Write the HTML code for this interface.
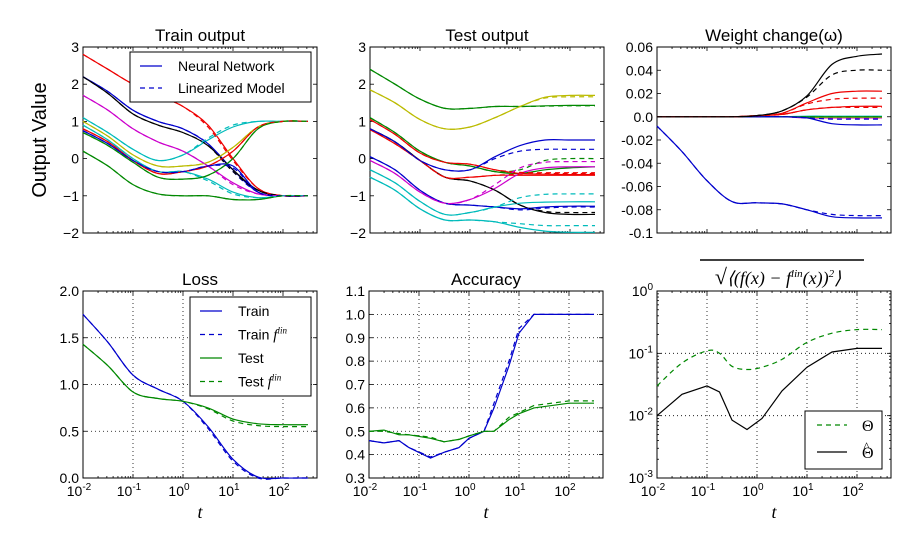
<!DOCTYPE html>
<html><head><meta charset="utf-8"><style>
body{margin:0;background:#fff;}
svg{display:block;font-family:"Liberation Sans","DejaVu Sans",sans-serif;}
</style></head><body>
<svg id="fig" width="918" height="544" viewBox="0 0 918 544" xmlns="http://www.w3.org/2000/svg"></svg>
<script>
// ---- shared x grid (log10 t) ----
const LT = [-2,-1.5,-1,-0.5,0,0.5,1,1.5,2,2.5];
// ---- Train output series ----
const trainNames = ['red-a','blue-a','black-a','magenta-a','cyan-a','yellow-a','cyan-b','red-b','blue-b','green-a','green-b'];
const trainColors = ['#e00','#00c','#000','#c0c','#0bb','#bb0','#0bb','#e00','#00c','#080','#080'];
const trainVals = [
 [2.8,2.4,2.0,1.7,1.4,0.9,0.0,-0.8,-1.0,-1.0],
 [2.2,1.8,1.3,1.0,0.8,0.4,-0.3,-0.9,-1.0,-1.0],
 [2.2,1.75,1.2,0.9,0.7,0.35,-0.3,-0.85,-1.0,-1.0],
 [1.7,1.3,0.8,0.45,0.2,-0.2,-0.65,-0.95,-1.0,-1.0],
 [1.1,0.7,0.25,-0.05,0.1,0.5,0.85,1.0,1.0,1.0],
 [1.0,0.6,0.1,-0.2,-0.2,-0.1,0.3,0.85,1.0,1.0],
 [0.9,0.5,0.0,-0.35,-0.35,-0.55,-0.9,-1.05,-1.0,-1.0],
 [0.8,0.45,-0.05,-0.4,-0.35,-0.2,0.2,0.85,1.0,1.0],
 [0.75,0.4,-0.05,-0.35,-0.35,-0.2,-0.2,-0.9,-1.0,-1.0],
 [0.7,0.35,-0.1,-0.5,-0.55,-0.45,0.0,0.8,1.0,1.0],
 [0.2,-0.2,-0.7,-0.95,-1.0,-1.0,-1.1,-1.1,-1.0,-1.0]
];
const trainLin = [
 [2.8,2.4,2.0,1.7,1.4,0.85,-0.05,-0.8,-1.0,-1.0],
 [2.2,1.8,1.3,1.0,0.8,0.4,-0.35,-0.9,-1.0,-1.0],
 [2.2,1.75,1.2,0.9,0.7,0.35,-0.35,-0.85,-1.0,-1.0],
 [1.7,1.3,0.8,0.45,0.2,-0.2,-0.7,-0.95,-1.0,-1.0],
 [1.1,0.7,0.25,-0.05,0.1,0.55,0.9,1.0,1.0,1.0],
 [1.0,0.6,0.1,-0.2,-0.2,-0.1,0.3,0.85,1.0,1.0],
 [0.9,0.5,0.0,-0.35,-0.35,-0.6,-0.95,-1.05,-1.0,-1.0],
 [0.8,0.45,-0.05,-0.4,-0.35,-0.2,0.2,0.85,1.0,1.0],
 [0.75,0.4,-0.05,-0.35,-0.35,-0.2,-0.25,-0.9,-1.0,-1.0],
 [0.7,0.35,-0.1,-0.5,-0.55,-0.45,0.0,0.8,1.0,1.0],
 [0.2,-0.2,-0.7,-0.95,-1.0,-1.0,-1.1,-1.1,-1.0,-1.0]
];
// ---- Test output series ----
const testColors = ['#080','#bb0','#080','#e00','#000','#e00','#00c','#00c','#c0c','#0bb','#0bb'];
const testVals = [
 [2.4,2.0,1.6,1.35,1.35,1.4,1.4,1.42,1.43,1.43],
 [1.85,1.5,1.05,0.8,0.85,1.1,1.4,1.65,1.7,1.7],
 [1.1,0.7,0.2,-0.1,-0.2,-0.35,-0.4,-0.3,-0.25,-0.22],
 [1.05,0.65,0.15,-0.1,-0.15,-0.3,-0.4,-0.42,-0.43,-0.43],
 [0.8,0.45,-0.05,-0.5,-0.6,-0.85,-1.25,-1.45,-1.5,-1.5],
 [0.78,0.4,-0.05,-0.5,-0.5,-0.45,-0.45,-0.45,-0.45,-0.45],
 [0.8,0.45,-0.05,-0.3,-0.3,0.05,0.35,0.5,0.5,0.5],
 [0.05,-0.3,-0.85,-1.2,-1.25,-1.3,-1.35,-1.3,-1.28,-1.28],
 [-0.05,-0.4,-0.9,-1.2,-1.1,-0.8,-0.4,-0.25,-0.22,-0.22],
 [-0.3,-0.65,-1.15,-1.5,-1.45,-1.3,-1.2,-1.17,-1.16,-1.16],
 [-0.5,-0.85,-1.35,-1.65,-1.65,-1.7,-1.85,-1.95,-1.98,-1.98]
];
const testLin = [
 [2.4,2.0,1.6,1.35,1.35,1.4,1.4,1.41,1.42,1.42],
 [1.85,1.5,1.05,0.8,0.85,1.1,1.4,1.63,1.66,1.66],
 [1.1,0.7,0.2,-0.1,-0.2,-0.35,-0.3,-0.05,0.0,0.0],
 [1.05,0.65,0.15,-0.1,-0.15,-0.3,-0.37,-0.38,-0.38,-0.38],
 [0.8,0.45,-0.05,-0.5,-0.6,-0.85,-1.25,-1.42,-1.45,-1.45],
 [0.78,0.4,-0.05,-0.5,-0.5,-0.45,-0.42,-0.4,-0.4,-0.4],
 [0.8,0.45,-0.05,-0.3,-0.3,0.0,0.2,0.25,0.25,0.25],
 [0.05,-0.3,-0.85,-1.2,-1.25,-1.3,-1.38,-1.33,-1.3,-1.3],
 [-0.05,-0.4,-0.9,-1.2,-1.1,-0.7,-0.25,-0.1,-0.08,-0.08],
 [-0.3,-0.65,-1.15,-1.5,-1.45,-1.3,-1.05,-0.96,-0.95,-0.95],
 [-0.5,-0.85,-1.35,-1.65,-1.65,-1.7,-1.75,-1.8,-1.8,-1.8]
];
// ---- Weight change ----
const wColors = ['#00c','#000','#e00','#e00','#00c','#080','#0bb','#bb0','#c0c'];
const wVals = [
 [-0.008,-0.03,-0.055,-0.073,-0.074,-0.075,-0.08,-0.086,-0.087,-0.087],
 [0,0,0,0,0.001,0.005,0.018,0.045,0.052,0.054],
 [0,0,0,0,0.001,0.003,0.012,0.02,0.022,0.022],
 [0,0,0,0,0.001,0.002,0.006,0.008,0.009,0.009],
 [0,0,0,0,0,0,-0.001,-0.006,-0.007,-0.007],
 [0,0,0,0,0,0,0,0,0,0],
 [0,0,0,0,0,0,0.0005,0.0005,0.0005,0.0005],
 [0,0,0,0,0,0,-0.0005,-0.0005,-0.0005,-0.0005],
 [0,0,0,0,0,0,-0.001,-0.001,-0.001,-0.001]
];
const wLin = [
 [-0.008,-0.03,-0.055,-0.073,-0.074,-0.075,-0.08,-0.084,-0.085,-0.085],
 [0,0,0,0,0.001,0.005,0.017,0.036,0.04,0.04],
 [0,0,0,0,0.001,0.003,0.011,0.015,0.016,0.016],
 [0,0,0,0,0.001,0.002,0.006,0.008,0.008,0.008],
 [0,0,0,0,0,0,-0.001,-0.002,-0.002,-0.002],
 [0,0,0,0,0,0,0,0,0,0],
 [0,0,0,0,0,0,0,0,0,0],
 [0,0,0,0,0,0,0,0,0,0],
 [0,0,0,0,0,0,0,0,0,0]
];
// ---- Loss ----
const lossTrain = [1.75,1.45,1.1,0.95,0.82,0.55,0.2,0.01,0,0];
const lossTrainLin = [1.75,1.45,1.1,0.95,0.82,0.53,0.18,0.0,0,0];
const lossTest = [1.43,1.2,0.92,0.85,0.82,0.75,0.63,0.58,0.57,0.57];
const lossTestLin = [1.43,1.2,0.92,0.85,0.82,0.74,0.61,0.56,0.55,0.55];
// ---- Accuracy ----
const accLT = [-2,-1.7,-1.4,-1.2,-0.77,-0.5,-0.2,0,0.3,0.5,0.8,1,1.3,2,2.5];
const accTrain = [0.46,0.45,0.46,0.43,0.385,0.41,0.43,0.47,0.5,0.6,0.78,0.92,1.0,1.0,1.0];
const accTrainLin = [0.46,0.45,0.46,0.43,0.39,0.41,0.43,0.47,0.5,0.62,0.8,0.94,1.0,1.0,1.0];
const accTest = [0.5,0.505,0.485,0.485,0.47,0.455,0.465,0.48,0.5,0.5,0.55,0.575,0.6,0.62,0.62];
const accTestLin = [0.5,0.5,0.49,0.485,0.475,0.455,0.465,0.48,0.5,0.5,0.56,0.58,0.61,0.63,0.63];
// ---- Distance ----
const dLT = [-2,-1.5,-1,-0.75,-0.5,-0.2,0.1,0.5,1,1.5,2,2.5];
const dTheta = [0.03,0.07,0.11,0.1,0.062,0.055,0.06,0.08,0.15,0.21,0.24,0.24];
const dThetaHat = [0.01,0.022,0.03,0.024,0.0085,0.006,0.009,0.025,0.06,0.105,0.12,0.12];

const NS='http://www.w3.org/2000/svg';
const svg=document.getElementById('fig');
function el(tag,attrs,parent){const e=document.createElementNS(NS,tag);for(const k in attrs)e.setAttribute(k,attrs[k]);(parent||svg).appendChild(e);return e;}
const W=234;
function xS(x0){return lt=>x0+(lt+2)*50;}
function yLin(y0,y1,lo,hi){return v=>y1-(v-lo)/(hi-lo)*(y1-y0);}
function yLog(y0,y1,lo,hi){return v=>y1-(Math.log10(v)-lo)/(hi-lo)*(y1-y0);}
function smoothPath(xs,ys){
  let d='M'+xs[0].toFixed(1)+','+ys[0].toFixed(1);
  for(let i=0;i<xs.length-1;i++){
    const x0=xs[Math.max(i-1,0)],y0=ys[Math.max(i-1,0)],x1=xs[i],y1=ys[i],x2=xs[i+1],y2=ys[i+1],x3=xs[Math.min(i+2,xs.length-1)],y3=ys[Math.min(i+2,xs.length-1)];
    d+=' C'+(x1+(x2-x0)/6).toFixed(1)+','+(y1+(y2-y0)/6).toFixed(1)+' '+(x2-(x3-x1)/6).toFixed(1)+','+(y2-(y3-y1)/6).toFixed(1)+' '+x2.toFixed(1)+','+y2.toFixed(1);
  }
  return d;
}
function linePath(xs,ys){return xs.map((x,i)=>(i?'L':'M')+x.toFixed(1)+','+ys[i].toFixed(1)).join(' ');}

function frame(name,x0,y0,y1,title,grid,ylabels,yvals,ysc,xlabels,logY){
  const g=el('g',{});
  
  
  const xs=xS(x0);
  if(grid){
    for(let d=-1;d<=2;d++){const l=el('line',{x1:xs(d),x2:xs(d),y1:y0,y2:y1,stroke:'#000','stroke-width':0.8,'stroke-dasharray':'1,3'},g);}
    yvals.forEach(v=>{const y=ysc(v);if(y>y0+1&&y<y1-1){const l=el('line',{x1:x0,x2:x0+W,y1:y,y2:y,stroke:'#000','stroke-width':0.8,'stroke-dasharray':'1,3'},g);}});
  }
  for(let d=-2;d<=2;d++){
    for(let m=1;m<10;m++){
      const lt=d+Math.log10(m);if(lt>2.68)break;
      const x=xs(lt),len=m===1?4:2;
      el('line',{x1:x,x2:x,y1:y1,y2:y1-len,stroke:'#000','stroke-width':0.8},g);
      el('line',{x1:x,x2:x,y1:y0,y2:y0+len,stroke:'#000','stroke-width':0.8},g);
    }
  }
  yvals.forEach((v,i)=>{const y=ysc(v);
    el('line',{x1:x0,x2:x0+4,y1:y,y2:y,stroke:'#000','stroke-width':0.8},g);
    el('line',{x1:x0+W,x2:x0+W-4,y1:y,y2:y,stroke:'#000','stroke-width':0.8},g);
    const t=el('text',{x:x0-4,y:y+5,'text-anchor':'end','font-size':14},g);
    
    
    if(logY){t.textContent='10';const s=el('tspan',{dy:-6,'font-size':10},t);s.textContent=ylabels[i];}
    else t.textContent=ylabels[i];
  });
  if(logY){
    for(let d=-3;d<0;d++)for(let m=2;m<10;m++){const y=ysc(m*Math.pow(10,d));
      el('line',{x1:x0,x2:x0+2,y1:y,y2:y,stroke:'#000','stroke-width':0.8},g);
      el('line',{x1:x0+W,x2:x0+W-2,y1:y,y2:y,stroke:'#000','stroke-width':0.8},g);}
  }
  if(xlabels){
    ['-2','-1','0','1','2'].forEach((e,i)=>{const t=el('text',{x:xs(i-2)-4,y:y1+18,'text-anchor':'middle','font-size':14},g);
      
      
      t.textContent='10';const s=el('tspan',{dy:-6,'font-size':10},t);s.textContent=e;});
    const tl=el('text',{x:x0+W/2,y:y1+40,'text-anchor':'middle','font-size':18,'font-style':'italic','font-family':'"Liberation Serif",serif'},g);
    
    
    tl.textContent='t';
  }
  if(title){const tt=el('text',{x:x0+W/2,y:y0-6,'text-anchor':'middle','font-size':17},g);
    
    
    tt.textContent=title;}
  const b=el('rect',{x:x0,y:y0,width:W,height:y1-y0,fill:'none',stroke:'#000','stroke-width':1},g);
  
  
  return {g,xs};
}
function series(g,xs,lts,vals,ysc,color,dashed,name,smooth){
  const X=lts.map(xs),Y=vals.map(ysc);
  const p=el('path',{d:smooth?smoothPath(X,Y):linePath(X,Y),fill:'none',stroke:color,'stroke-width':1.2,'stroke-dasharray':dashed?'5,4':'none'},g);
  
  
}
// Train output
{const ys=yLin(47,233,-2,3);const f=frame('train-output',83,47,233,'Train output',false,['\u22122','\u22121','0','1','2','3'],[-2,-1,0,1,2,3],ys,false);
 trainVals.forEach((v,i)=>series(f.g,f.xs,LT,v,ys,trainColors[i],false,'train-line-'+trainNames[i],true));
 trainLin.forEach((v,i)=>series(f.g,f.xs,LT,v,ys,trainColors[i],true,'train-lin-line-'+trainNames[i],true));
 const lg=el('g',{},f.g);
 el('rect',{x:130,y:52,width:181,height:50,fill:'#fff',stroke:'#000','stroke-width':1},lg);
 el('line',{x1:140,x2:162,y1:66,y2:66,stroke:'#00c','stroke-width':1.2},lg);
 el('line',{x1:140,x2:162,y1:88,y2:88,stroke:'#00c','stroke-width':1.2,'stroke-dasharray':'5,4'},lg);
 const a=el('text',{x:178,y:71,'font-size':14},lg);a.textContent='Neural Network';
 const b=el('text',{x:178,y:93,'font-size':14},lg);b.textContent='Linearized Model';
 const yl=el('text',{x:46,y:140,'text-anchor':'middle','font-size':20,transform:'rotate(-90 46 140)'});
 yl.textContent='Output Value';
}
// Test output
{const ys=yLin(47,233,-2,3);const f=frame('test-output',370,47,233,'Test output',false,['\u22122','\u22121','0','1','2','3'],[-2,-1,0,1,2,3],ys,false);
 testVals.forEach((v,i)=>series(f.g,f.xs,LT,v,ys,testColors[i],false,'test-line-'+i,true));
 testLin.forEach((v,i)=>series(f.g,f.xs,LT,v,ys,testColors[i],true,'test-lin-line-'+i,true));
}
// Weight change
{const ys=yLin(47,233,-0.1,0.06);const vals=[-0.1,-0.08,-0.06,-0.04,-0.02,0,0.02,0.04,0.06];
 const f=frame('weight-change',657,47,233,'Weight change(\u03c9)',false,['-0.1','-0.08','-0.06','-0.04','-0.02','0.0','0.02','0.04','0.06'],vals,ys,false);
 for(let i=wVals.length-1;i>=0;i--){series(f.g,f.xs,LT,wVals[i],ys,wColors[i],false,'weight-line-'+i,true);series(f.g,f.xs,LT,wLin[i],ys,wColors[i],true,'weight-lin-line-'+i,true);}
}
// Loss
{const ys=yLin(291,478,0,2);const f=frame('loss',83,291,478,'Loss',true,['0.0','0.5','1.0','1.5','2.0'],[0,0.5,1,1.5,2],ys,true);
 series(f.g,f.xs,LT,lossTrain,ys,'#00c',false,'loss-train-line',true);
 series(f.g,f.xs,LT,lossTrainLin,ys,'#00c',true,'loss-train-lin-line',true);
 series(f.g,f.xs,LT,lossTest,ys,'#080',false,'loss-test-line',true);
 series(f.g,f.xs,LT,lossTestLin,ys,'#080',true,'loss-test-lin-line',true);
 const lg=el('g',{},f.g);
 el('rect',{x:190,y:297,width:121,height:99,fill:'#fff',stroke:'#000','stroke-width':1},lg);
 [['Train','#00c',0],['Train ','#00c',1],['Test','#080',0],['Test ','#080',1]].forEach((r,i)=>{const y=311+i*23.5;
  el('line',{x1:200,x2:222,y1:y,y2:y,stroke:r[1],'stroke-width':1.2,'stroke-dasharray':r[2]?'5,4':'none'},lg);
  const t=el('text',{x:238,y:y+5,'font-size':14},lg);t.textContent=r[0];
  if(r[2]){const s=el('tspan',{'font-style':'italic','font-family':'"Liberation Serif",serif','font-size':15},t);s.textContent='f';const s2=el('tspan',{dy:-6,'font-size':9,'font-style':'italic','font-family':'"Liberation Serif",serif'},t);s2.textContent='lin';}
 });
}
// Accuracy
{const ys=yLin(291,478,0.3,1.1);const vals=[0.3,0.4,0.5,0.6,0.7,0.8,0.9,1.0,1.1];
 const f=frame('accuracy',369,291,478,'Accuracy',true,vals.map(v=>v.toFixed(1)),vals,ys,true);
 series(f.g,f.xs,accLT,accTrain,ys,'#00c',false,'acc-train-line',false);
 series(f.g,f.xs,accLT,accTrainLin,ys,'#00c',true,'acc-train-lin-line',false);
 series(f.g,f.xs,accLT,accTest,ys,'#080',false,'acc-test-line',false);
 series(f.g,f.xs,accLT,accTestLin,ys,'#080',true,'acc-test-lin-line',false);
}
// Distance
{const ys=yLog(291,478,-3,0);
 const f=frame('distance',657,291,478,null,true,['-3','-2','-1','0'],[0.001,0.01,0.1,1],ys,true,true);
 series(f.g,f.xs,dLT,dTheta,ys,'#080',true,'theta-line',true);
 series(f.g,f.xs,dLT,dThetaHat,ys,'#000',false,'theta-hat-line',false);
 const tt=el('text',{x:778,y:284,'text-anchor':'middle','font-size':18,'font-family':'"Liberation Serif",serif','font-style':'italic'},f.g);
 
 const s0=el('tspan',{'font-size':22,'font-style':'normal'},tt);s0.textContent='\u221a';
 const s1=el('tspan',{},tt);s1.textContent='\u27e8(f(x) \u2212 f';
 const s=el('tspan',{dy:-7,'font-size':11},tt);s.textContent='lin';const s2=el('tspan',{dy:7},tt);s2.textContent='(x))';const s3=el('tspan',{dy:-7,'font-size':11},tt);s3.textContent='2';const s4=el('tspan',{dy:7},tt);s4.textContent='\u27e9';
 el('line',{x1:700,x2:864,y1:260,y2:260,stroke:'#000','stroke-width':1.5},f.g);
 const lg=el('g',{},f.g);
 el('rect',{x:805,y:411,width:77,height:58,fill:'#fff',stroke:'#000','stroke-width':1},lg);
 el('line',{x1:817,x2:847,y1:425,y2:425,stroke:'#080','stroke-width':1.2,'stroke-dasharray':'5,4'},lg);
 el('line',{x1:817,x2:847,y1:452,y2:452,stroke:'#000','stroke-width':1.2},lg);
 const a=el('text',{x:862,y:431,'font-size':16,'font-family':'"Liberation Serif",serif'},lg);a.textContent='\u0398';
 const b=el('text',{x:862,y:458,'font-size':16,'font-family':'"Liberation Serif",serif'},lg);b.textContent='\u0398';
 const h=el('text',{x:863.5,y:451,'font-size':13,'font-family':'"Liberation Serif",serif'},lg);h.textContent='^';
}
</script>
</body></html>
